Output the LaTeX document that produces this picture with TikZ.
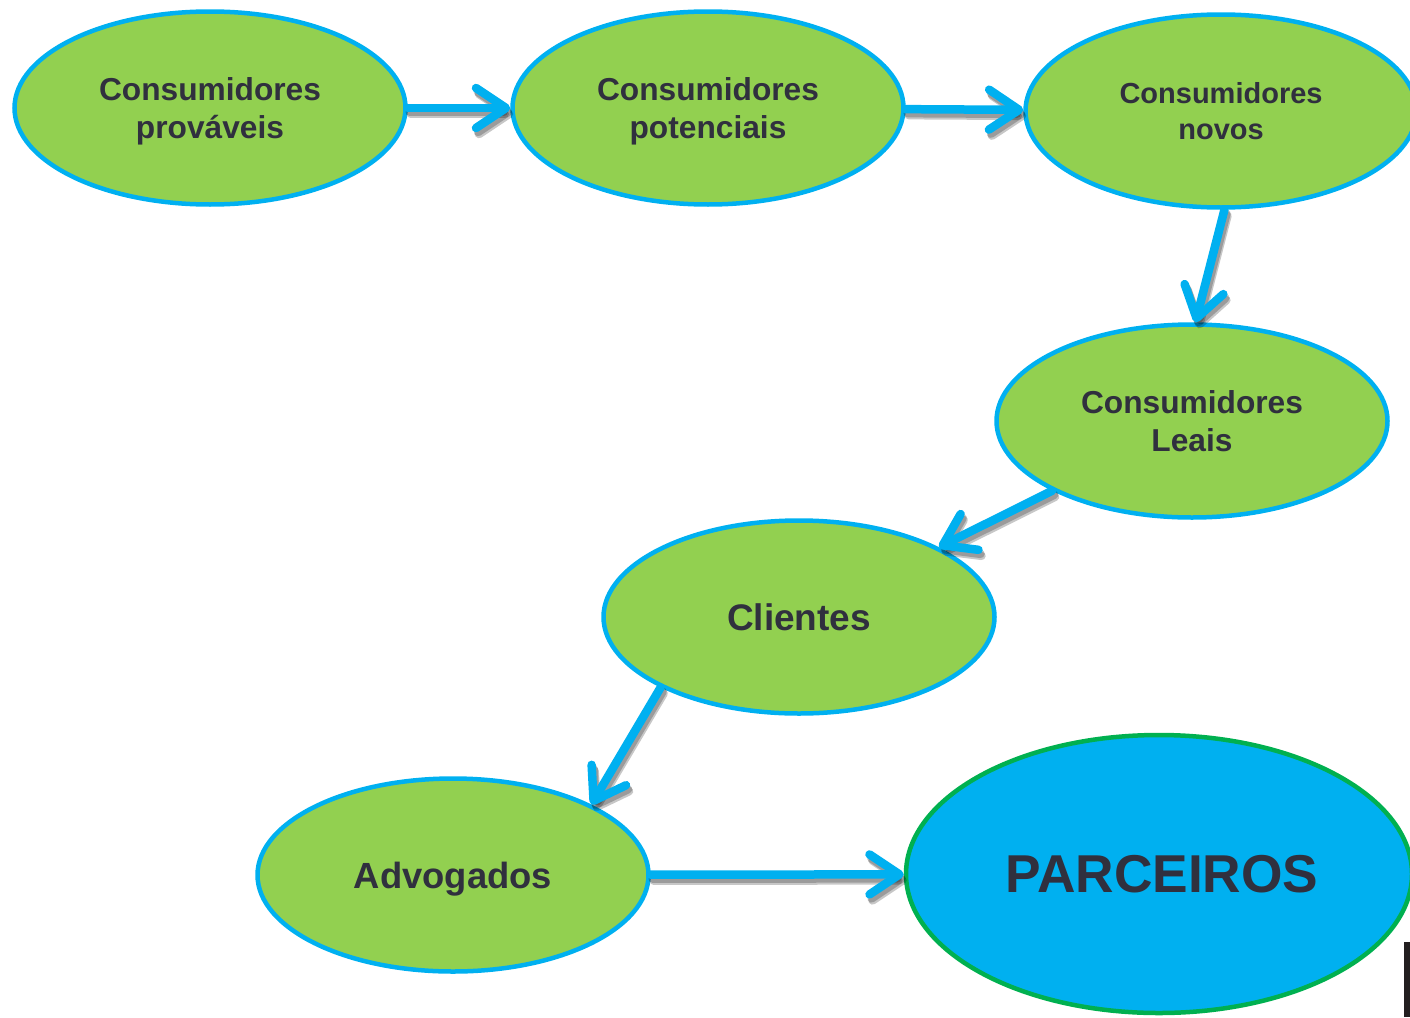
\documentclass[tikz,border=0pt]{standalone}
\usepackage{fontspec}
\setmainfont{Liberation Sans}
\usetikzlibrary{shapes.geometric,arrows.meta}
\definecolor{cyanb}{HTML}{00B0F0}
\definecolor{greenf}{HTML}{92D050}
\definecolor{greenb}{HTML}{00B050}
\definecolor{txt}{RGB}{48,48,62}
\definecolor{barc}{HTML}{231F20}
\tikzset{
  stage/.style={ellipse, draw=cyanb, fill=greenf, line width=4.5pt,
    minimum width=391pt, minimum height=193pt, inner sep=0pt, text depth=0pt,
    align=center, text=txt, font=\bfseries\fontsize{31.7}{38.5}\selectfont},
  partner/.style={ellipse, draw=greenb, fill=cyanb, line width=4.5pt,
    minimum width=506pt, minimum height=278pt, inner sep=0pt, text depth=0pt,
    align=center, text=txt, font=\bfseries\fontsize{53.3}{60}\selectfont},
  flow/.style={draw=cyanb, line width=8.5pt, line cap=round,
    -{Straight Barb[length=30pt, width=40pt, line cap=round, line join=round]}},
  flowshadow/.style={flow, draw=black, opacity=0.22,
    transform canvas={shift={(#1)}}}
}
\begin{document}
\begin{tikzpicture}[x=1pt,y=-1pt]
\useasboundingbox (0,0) rectangle (1410,1017);
\node[stage] (prov) at (210,108) {Consumidores\\prováveis};
\node[stage] (pot) at (708,108) {Consumidores\\potenciais};
\node[stage, font=\bfseries\fontsize{29}{36}\selectfont] (novos) at (1221,111) {Consumidores\\novos};
\node[stage, yshift=0pt] (leais) at (1192,421) {Consumidores\\\rule{0pt}{0pt}Leais};
\node[stage, font=\bfseries\fontsize{37}{44}\selectfont] (cli) at (799,617) {Clientes};
\node[stage, font=\bfseries\fontsize{36.4}{44}\selectfont] (adv) at (453,875) {Advogados};
\node[partner] (parc) at (1159,874) {\hspace*{6pt}PARCEIROS};
\fill[barc] (1404,942) rectangle (1412,1017);
% shadows
\foreach \s in {{2,4},{3,6}} {
  \draw[flowshadow=\s] (prov) -- (pot);
  \draw[flowshadow=\s] (pot) -- (novos);
  \draw[flowshadow=\s] (novos.272) -- (leais.88);
  \draw[flowshadow=\s] (leais) -- (cli);
  \draw[flowshadow=\s] (cli.207) -- (adv.27);
  \draw[flowshadow=\s] (adv) -- (parc);
}
% arrows
\draw[flow] (prov) -- (pot);
\draw[flow] (pot) -- (novos);
\draw[flow] (novos.272) -- (leais.88);
\draw[flow] (leais) -- (cli);
\draw[flow] (cli.207) -- (adv.27);
\draw[flow] (adv) -- (parc);
\end{tikzpicture}
\end{document}
